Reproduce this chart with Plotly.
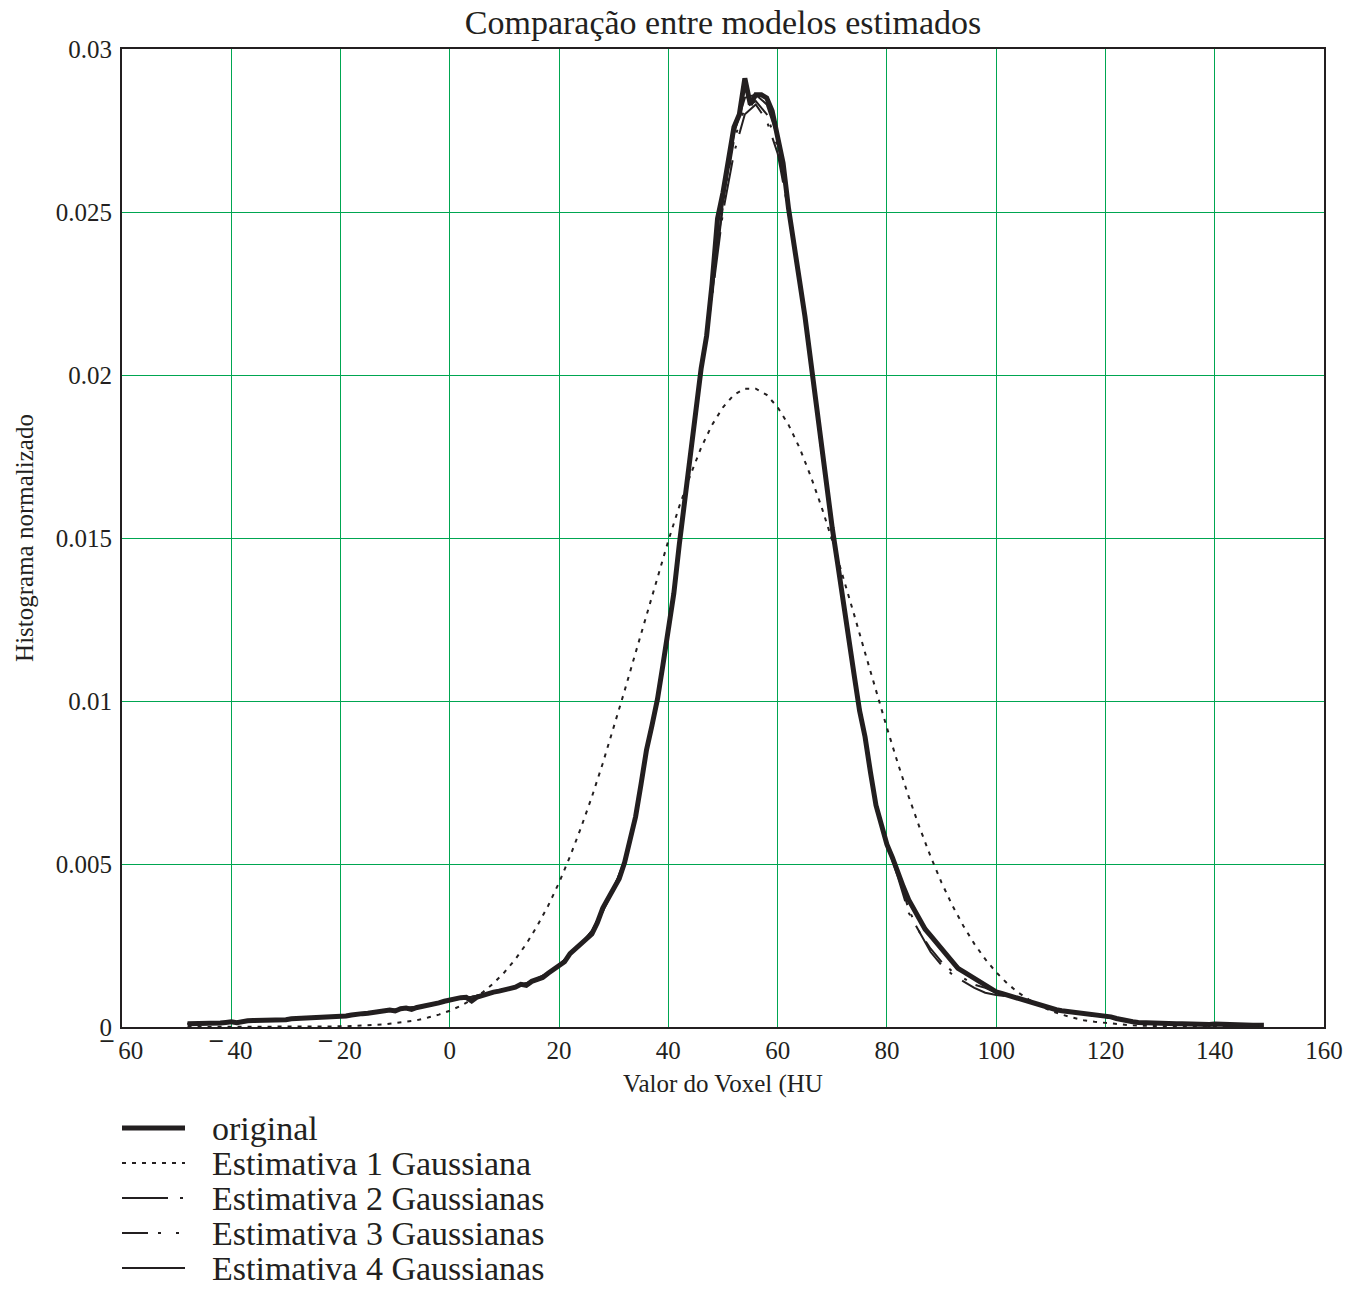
import plotly.graph_objects as go

# ---------------- data ----------------
x_orig = list(range(-48, 150))
y_orig = [
    0.00010, 0.00010, 0.00009, 0.00010, 0.00011, 0.00012, 0.00012, 0.00014, 0.00016, 0.00013,  # -48..-39
    0.00017, 0.00019, 0.00020, 0.00020, 0.00021, 0.00021, 0.00021, 0.00022, 0.00022, 0.00025,  # -38..-29
    0.00026, 0.00026, 0.00026, 0.00026, 0.00027, 0.00028, 0.00030, 0.00031, 0.00032, 0.00034,  # -28..-19
    0.00037, 0.00040, 0.00041, 0.00042, 0.00045, 0.00047, 0.00050, 0.00052, 0.00049, 0.00056,  # -18..-9
    0.00058, 0.00054, 0.00060, 0.00063, 0.00068, 0.00070, 0.00074, 0.00079, 0.00083, 0.00085,  # -8..1
    0.00090, 0.00091, 0.00080, 0.00092, 0.00098, 0.00103, 0.00107, 0.00110, 0.00113, 0.00118,  # 2..11
    0.00122, 0.00131, 0.00128, 0.00140, 0.00145, 0.00152, 0.00165, 0.00178, 0.00190, 0.00200,  # 12..21
    0.00225, 0.00240, 0.00252, 0.00265, 0.00285, 0.00320, 0.00365, 0.00395, 0.00425, 0.00455,  # 22..31
    0.00505, 0.00570, 0.00645, 0.00745, 0.00850, 0.00925, 0.01005, 0.01110, 0.01220, 0.01330,  # 32..41
    0.01480, 0.01620, 0.01750, 0.01900, 0.02020, 0.02120, 0.02280, 0.02480, 0.02560, 0.02660,  # 42..51
    0.02760, 0.02800, 0.02910, 0.02830, 0.02860, 0.02860, 0.02850, 0.02810, 0.02730, 0.02650,  # 52..61
    0.02510, 0.02390, 0.02290, 0.02180, 0.02050, 0.01920, 0.01770, 0.01640, 0.01530, 0.01420,  # 62..71
    0.01300, 0.01190, 0.01080, 0.00970, 0.00890, 0.00780, 0.00680, 0.00620, 0.00560, 0.00520,  # 72..81
    0.00470, 0.00430, 0.00390, 0.00360, 0.00330, 0.00300, 0.00280, 0.00260, 0.00240, 0.00220,  # 82..91
    0.00200, 0.00180, 0.00170, 0.00160, 0.00150, 0.00140, 0.00130, 0.00120, 0.00108, 0.00103,  # 92..101
    0.00098, 0.00092, 0.00087, 0.00082, 0.00077, 0.00073, 0.00066, 0.00060, 0.00056, 0.00053,  # 102..111
    0.00050, 0.00048, 0.00045, 0.00042, 0.00040, 0.00037, 0.00035, 0.00034, 0.00033, 0.00031,  # 112..121
    0.00026, 0.00022, 0.00018, 0.00016, 0.00014, 0.00013, 0.00012, 0.00012, 0.00011, 0.00011,  # 122..131
    0.00010, 0.00010, 0.00010, 0.00009, 0.00010, 0.00009, 0.00009, 0.00008, 0.00009, 0.00008,  # 132..141
    0.00007, 0.00008, 0.00007, 0.00006, 0.00006, 0.00005, 0.00005, 0.00005,                    # 142..149
]

x_est = list(range(-48, 149, 2))
y_est1 = [
    0.0, 0.0, 0.0, 0.0, 0.0, 0.0, 0.0, 0.00001, 0.00001, 0.00001,              # -48..-30
    0.00001, 0.00001, 0.00001, 0.00001, 0.00002, 0.00003, 0.00004, 0.00006, 0.00008, 0.00012,  # -28..-10
    0.00016, 0.00021, 0.00029, 0.00038, 0.00050, 0.00065, 0.00084, 0.00106, 0.00134, 0.00168,  # -8..10
    0.00208, 0.00255, 0.00310, 0.00372, 0.00443, 0.00523, 0.00611, 0.00706, 0.00809, 0.00918,  # 12..30
    0.01032, 0.01148, 0.01265, 0.01380, 0.01492, 0.01597, 0.01692, 0.01777, 0.01847, 0.01901,  # 32..50
    0.01939, 0.01958, 0.01958, 0.01939, 0.01901, 0.01847, 0.01777, 0.01692, 0.01597, 0.01492,  # 52..70
    0.01380, 0.01265, 0.01148, 0.01032, 0.00918, 0.00809, 0.00706, 0.00611, 0.00523, 0.00443,  # 72..90
    0.00372, 0.00310, 0.00255, 0.00208, 0.00168, 0.00134, 0.00106, 0.00084, 0.00065, 0.00050,  # 92..110
    0.00038, 0.00029, 0.00021, 0.00016, 0.00012, 0.00008, 0.00006, 0.00004, 0.00003, 0.00002,  # 112..130
    0.00001, 0.00001, 0.00001, 0.00001, 0.00001, 0.00001, 0.00001, 0.00001, 0.00001,          # 132..148
]
y_est2 = [
    0.00010, 0.00011, 0.00012, 0.00013, 0.00015, 0.00016, 0.00018, 0.00020, 0.00021, 0.00023,  # -48..-30
    0.00025, 0.00026, 0.00028, 0.00030, 0.00033, 0.00036, 0.00040, 0.00044, 0.00049, 0.00053,  # -28..-10
    0.00057, 0.00062, 0.00067, 0.00074, 0.00082, 0.00088, 0.00093, 0.00099, 0.00106, 0.00114,  # -8..10
    0.00123, 0.00134, 0.00148, 0.00166, 0.00190, 0.00222, 0.00255, 0.00295, 0.00355, 0.00425,  # 12..30
    0.00510, 0.00640, 0.00840, 0.01000, 0.01210, 0.01480, 0.01760, 0.02000, 0.02240, 0.02500,  # 32..50
    0.02680, 0.02800, 0.02830, 0.02780, 0.02680, 0.02500, 0.02290, 0.02050, 0.01770, 0.01530,  # 52..70
    0.01300, 0.01080, 0.00890, 0.00690, 0.00560, 0.00460, 0.00350, 0.00290, 0.00230, 0.00190,  # 72..90
    0.00160, 0.00140, 0.00120, 0.00105, 0.00098, 0.00094, 0.00086, 0.00076, 0.00066, 0.00056,  # 92..110
    0.00050, 0.00045, 0.00040, 0.00035, 0.00032, 0.00027, 0.00020, 0.00016, 0.00013, 0.00011,  # 112..130
    0.00010, 0.00010, 0.00009, 0.00009, 0.00008, 0.00008, 0.00007, 0.00006, 0.00005,          # 132..148
]
y_est3 = [
    0.00010, 0.00011, 0.00012, 0.00013, 0.00015, 0.00016, 0.00018, 0.00020, 0.00021, 0.00023,  # -48..-30
    0.00025, 0.00026, 0.00028, 0.00030, 0.00033, 0.00036, 0.00040, 0.00044, 0.00049, 0.00053,  # -28..-10
    0.00057, 0.00062, 0.00067, 0.00074, 0.00082, 0.00088, 0.00093, 0.00099, 0.00106, 0.00114,  # -8..10
    0.00123, 0.00134, 0.00148, 0.00166, 0.00190, 0.00222, 0.00255, 0.00295, 0.00355, 0.00425,  # 12..30
    0.00510, 0.00640, 0.00840, 0.01000, 0.01210, 0.01480, 0.01760, 0.02010, 0.02250, 0.02520,  # 32..50
    0.02720, 0.02820, 0.02840, 0.02800, 0.02700, 0.02510, 0.02290, 0.02050, 0.01770, 0.01530,  # 52..70
    0.01300, 0.01080, 0.00890, 0.00690, 0.00560, 0.00470, 0.00360, 0.00290, 0.00240, 0.00200,  # 72..90
    0.00170, 0.00150, 0.00130, 0.00120, 0.00105, 0.00096, 0.00087, 0.00077, 0.00066, 0.00056,  # 92..110
    0.00050, 0.00045, 0.00040, 0.00035, 0.00032, 0.00027, 0.00020, 0.00016, 0.00013, 0.00011,  # 112..130
    0.00010, 0.00010, 0.00009, 0.00009, 0.00008, 0.00008, 0.00007, 0.00006, 0.00005,          # 132..148
]
y_est4 = [
    0.00010, 0.00011, 0.00012, 0.00013, 0.00015, 0.00016, 0.00018, 0.00020, 0.00021, 0.00023,  # -48..-30
    0.00025, 0.00026, 0.00028, 0.00030, 0.00033, 0.00036, 0.00040, 0.00044, 0.00049, 0.00053,  # -28..-10
    0.00057, 0.00062, 0.00067, 0.00074, 0.00082, 0.00088, 0.00093, 0.00099, 0.00106, 0.00114,  # -8..10
    0.00123, 0.00134, 0.00148, 0.00166, 0.00190, 0.00222, 0.00255, 0.00295, 0.00355, 0.00425,  # 12..30
    0.00510, 0.00640, 0.00840, 0.01000, 0.01210, 0.01480, 0.01760, 0.02010, 0.02260, 0.02530,  # 32..50
    0.02740, 0.02850, 0.02860, 0.02830, 0.02730, 0.02510, 0.02290, 0.02050, 0.01770, 0.01530,  # 52..70
    0.01300, 0.01080, 0.00890, 0.00690, 0.00560, 0.00470, 0.00390, 0.00330, 0.00280, 0.00240,  # 72..90
    0.00200, 0.00170, 0.00150, 0.00130, 0.00108, 0.00098, 0.00087, 0.00077, 0.00066, 0.00056,  # 92..110
    0.00050, 0.00045, 0.00040, 0.00035, 0.00032, 0.00027, 0.00020, 0.00016, 0.00013, 0.00011,  # 112..130
    0.00010, 0.00010, 0.00009, 0.00009, 0.00008, 0.00008, 0.00007, 0.00006, 0.00005,          # 132..148
]

x_tick_vals = [-60, -40, -20, 0, 20, 40, 60, 80, 100, 120, 140, 160]
x_tick_text = ["<b>¯</b>\u200960", "<b>¯</b>\u200940", "<b>¯</b>\u200920", "0", "20", "40",
               "60", "80", "100", "120", "140", "160"]
y_tick_vals = [0, 0.005, 0.01, 0.015, 0.02, 0.025, 0.03]
y_tick_text = ["0", "0.005", "0.01", "0.015", "0.02", "0.025", "0.03"]

series_names = ["original", "Estimativa 1 Gaussiana", "Estimativa 2 Gaussianas",
                "Estimativa 3 Gaussianas", "Estimativa 4 Gaussianas"]

# ---------------- styling ----------------
INK = "#231f20"
GRID = "#00a651"
FONT = "Liberation Serif"
dashes = ["solid", "4px,6px", "46px,12px,3px,12px", "26px,10px,3px,15px,3px,10px", "solid"]
widths = [5, 2, 2, 2, 2]

fig = go.Figure()
series = [(x_orig, y_orig), (x_est, y_est1), (x_est, y_est2), (x_est, y_est3), (x_est, y_est4)]
for (xs, ys), name, dash, w in zip(series, series_names, dashes, widths):
    fig.add_trace(go.Scatter(
        x=xs, y=ys, mode="lines", name=name,
        line=dict(color=INK, width=w, dash=dash),
        showlegend=False,
    ))

# plot area geometry (px)
W, H = 1366, 1295
ml, mr, mt, mb = 122, 42, 49, 268
pw, ph = W - ml - mr, H - mt - mb

# manual legend below the plot
legend_rows_px = [1128, 1163, 1198, 1233, 1268]
shapes = []
annotations = []
for name, dash, w, py in zip(series_names, dashes, widths, legend_rows_px):
    yp = (H - mb - py) / ph
    shapes.append(dict(type="line", xref="paper", yref="paper",
                       x0=0.0, x1=(185 - ml) / pw, y0=yp, y1=yp,
                       line=dict(color=INK, width=w if w > 2 else 2, dash=dash)))
    annotations.append(dict(xref="paper", yref="paper", x=(210 - ml) / pw, y=yp,
                            xanchor="left", yanchor="middle", showarrow=False,
                            text=name, font=dict(family=FONT, size=34, color=INK)))

fig.update_layout(
    width=W, height=H,
    margin=dict(l=ml, r=mr, t=mt, b=mb),
    paper_bgcolor="white", plot_bgcolor="white",
    title=dict(text="Comparação entre modelos estimados", x=0.5 * (ml + W - mr) / W,
               xanchor="center", y=1 - 22 / H, yanchor="middle",
               font=dict(family=FONT, size=34, color=INK)),
    font=dict(family=FONT, color=INK),
    shapes=shapes,
    annotations=annotations,
)
fig.update_xaxes(
    range=[-60, 160], tickvals=x_tick_vals, ticktext=x_tick_text,
    tickfont=dict(family=FONT, size=25, color=INK),
    showgrid=True, gridcolor=GRID, gridwidth=1,
    showline=True, linecolor=INK, linewidth=2, mirror=True,
    zeroline=False, ticks="",
    title=dict(text="Valor do Voxel (HU", font=dict(family=FONT, size=25, color=INK), standoff=11),
)
fig.update_yaxes(
    range=[0, 0.03], tickvals=y_tick_vals, ticktext=y_tick_text,
    tickfont=dict(family=FONT, size=25, color=INK),
    showgrid=True, gridcolor=GRID, gridwidth=1,
    showline=True, linecolor=INK, linewidth=2, mirror=True,
    zeroline=False, ticks="", ticklabelstandoff=3,
    title=dict(text="Histograma normalizado", font=dict(family=FONT, size=25, color=INK), standoff=15),
)

fig.write_html("out.html")
